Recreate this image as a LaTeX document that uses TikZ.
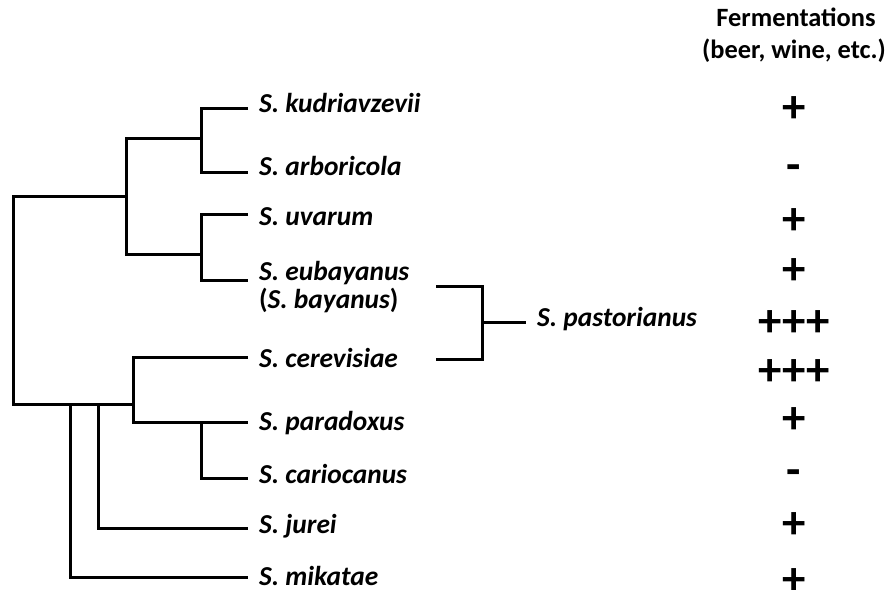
\documentclass[tikz,border=0pt]{standalone}
\usepackage{fontspec}
\setmainfont{Carlito}
\begin{document}
\begin{tikzpicture}[x=1bp,y=-1bp,
  branch/.style={line width=3bp, line join=miter, line cap=butt},
  sp/.style={anchor=base west, inner sep=0pt, font=\fontsize{27.5}{32}\selectfont\bfseries\itshape},
  ferm/.style={anchor=base, inner sep=0pt, font=\fontsize{47}{47}\selectfont\bfseries},
  head/.style={anchor=base, inner sep=0pt, font=\fontsize{26.5}{31}\selectfont\bfseries}]
\useasboundingbox (0,0) rectangle (891,590);
% leaf ends
\coordinate (kud) at (248,109);
\coordinate (arb) at (248,173);
\coordinate (uva) at (248,215);
\coordinate (eub) at (248,280);
\coordinate (cer) at (248,357);
\coordinate (par) at (248,422);
\coordinate (car) at (248,478);
\coordinate (jur) at (248,528);
\coordinate (mik) at (248,577);
% internal nodes
\coordinate (nka) at (201,139);
\coordinate (nue) at (201,254);
\coordinate (nkaue) at (126,197);
\coordinate (nroot) at (13,404);
\coordinate (ncp) at (133,404);
\coordinate (npc) at (201,422);
\coordinate (njur) at (98,404);
\coordinate (nmik) at (70,404);
% tree
\draw[branch] (kud) -| (nka) |- (arb);
\draw[branch] (uva) -| (nue) |- (eub);
\draw[branch] (nka) -| (nkaue) |- (nue);
\draw[branch] (nkaue) -| (nroot) -- (ncp);
\draw[branch] (cer) -| (ncp) |- (par);
\draw[branch] (npc) |- (car);
\draw[branch] (njur) |- (jur);
\draw[branch] (nmik) |- (mik);
% labels
\node[sp] (tkud) at (259,113) {S. kudriavzevii};
\node[sp] (tarb) at (259,176) {S. arboricola};
\node[sp] (tuva) at (259,226) {S. uvarum};
\node[sp] (teub) at (259,280) {S. eubayanus};
\node[sp] (tbay) at (259,308) {\upshape(\itshape S. bayanus\upshape)};
\node[sp] (tcer) at (259,367) {S. cerevisiae};
\node[sp] (tpar) at (259,430) {S. paradoxus};
\node[sp] (tcar) at (259,483) {S. cariocanus};
\node[sp] (tjur) at (259,533) {S. jurei};
\node[sp] (tmik) at (259,585) {S. mikatae};
% hybrid bracket
\coordinate (bt) at (436,286);
\coordinate (bb) at (436,359);
\coordinate (bm) at (482,322);
\node[sp] (tpas) at (537,326) {S. pastorianus};
\draw[branch] (bt) -| (bm) |- (bb);
\draw[branch] (bm) -- ([xshift=-11bp]tpas.west |- bm);
% header
\node[head] (h1) at (796,27) {Fermentations};
\node[head] (h2) at (794,59) {(beer, wine, etc.)};
% fermentation scores
\node[ferm] (f1) at (794,123) {+};
\node[ferm] (f2) at (794,181) {-};
\node[ferm] (f3) at (794,235) {+};
\node[ferm] (f4) at (794,284) {+};
\node[ferm] (f5) at (794,336) {+++};
\node[ferm] (f6) at (794,385) {+++};
\node[ferm] (f7) at (794,433) {+};
\node[ferm] (f8) at (794,485) {-};
\node[ferm] (f9) at (794,538) {+};
\node[ferm] (f10) at (794,594) {+};
\end{tikzpicture}
\end{document}
